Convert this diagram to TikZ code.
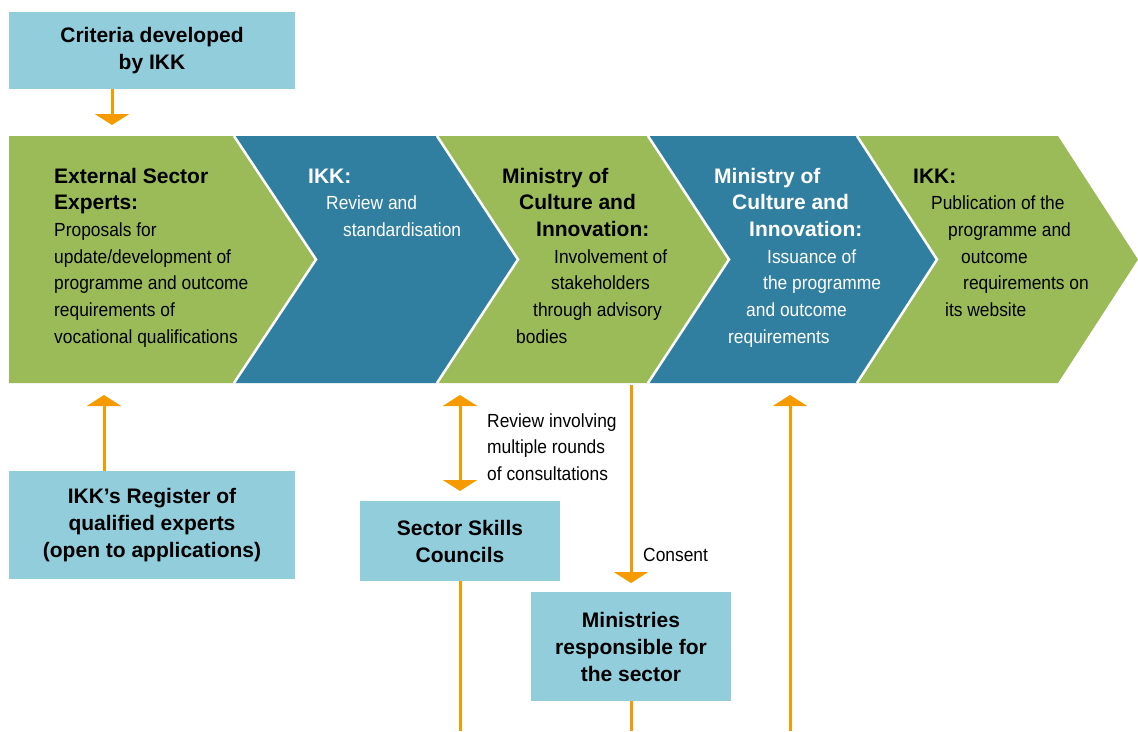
\documentclass[tikz,border=0pt]{standalone}
\usepackage{fontspec}
\setmainfont{Liberation Sans}
\newfontfamily\bodyfont[FakeStretch=0.915]{Liberation Sans}
\usetikzlibrary{arrows.meta}

\definecolor{stepgreen}{HTML}{9BBB59}
\definecolor{stepblue}{HTML}{317FA0}
\definecolor{boxblue}{HTML}{92CDDC}
\definecolor{flow}{HTML}{F59B00}

\tikzset{
  headline/.style={font=\fontsize{21}{26.7}\selectfont\bfseries, anchor=base west, inner sep=0pt},
  bodyline/.style={font=\bodyfont\fontsize{19}{26.7}\selectfont, anchor=base west, inner sep=0pt},
  infobox/.style={fill=boxblue, inner sep=0pt, align=center,
                  font=\fontsize{21}{27}\selectfont\bfseries},
  flowline/.style={draw=flow, line width=3pt},
  flowarrow/.style={flowline, -{Triangle[width=34pt,length=11pt]}},
  flowboth/.style={flowline, {Triangle[width=34pt,length=11pt]}-{Triangle[width=34pt,length=11pt]}},
  divider/.style={draw=white, line width=2.5pt},
}

\begin{document}
\begin{tikzpicture}[x=1pt, y=-1pt]
\useasboundingbox (0,0) rectangle (1138,731);

% ---- process chevrons ----
\fill[stepgreen] (9,136) -- (234,136) -- (316,259.5) -- (234,383) -- (9,383) -- cycle;
\fill[stepblue]  (234,136) -- (437,136) -- (518,259.5) -- (437,383) -- (234,383) -- (316,259.5) -- cycle;
\fill[stepgreen] (437,136) -- (648,136) -- (729,259.5) -- (648,383) -- (437,383) -- (518,259.5) -- cycle;
\fill[stepblue]  (648,136) -- (857,136) -- (937,259.5) -- (857,383) -- (648,383) -- (729,259.5) -- cycle;
\fill[stepgreen] (857,136) -- (1058,136) -- (1138,259.5) -- (1058,383) -- (857,383) -- (937,259.5) -- cycle;
\draw[divider] (234,136) -- (316,259.5) -- (234,383);
\draw[divider] (437,136) -- (518,259.5) -- (437,383);
\draw[divider] (648,136) -- (729,259.5) -- (648,383);
\draw[divider] (857,136) -- (937,259.5) -- (857,383);

% step 1
\node[headline] (s1a) at (54,183)   {External Sector};
\node[headline] (s1b) at (54,209.7) {Experts:};
\node[bodyline] (s1c) at (54,236.4) {Proposals for};
\node[bodyline] (s1d) at (54,263.1) {update/development of};
\node[bodyline] (s1e) at (54,289.8) {programme and outcome};
\node[bodyline] (s1f) at (54,316.5) {requirements of};
\node[bodyline] (s1g) at (54,343.2) {vocational qualifications};

% step 2
\node[headline, text=white] (s2a) at (308,183)   {IKK:};
\node[bodyline, text=white] (s2b) at (326,209.7) {Review and};
\node[bodyline, text=white] (s2c) at (343,236.4) {standardisation};

% step 3
\node[headline] (s3a) at (502,183)   {Ministry of};
\node[headline] (s3b) at (519,209.7) {Culture and};
\node[headline] (s3c) at (536,236.4) {Innovation:};
\node[bodyline] (s3d) at (554,263.1) {Involvement of};
\node[bodyline] (s3e) at (551,289.8) {stakeholders};
\node[bodyline] (s3f) at (533,316.5) {through advisory};
\node[bodyline] (s3g) at (516,343.2) {bodies};

% step 4
\node[headline, text=white] (s4a) at (714,183)   {Ministry of};
\node[headline, text=white] (s4b) at (732,209.7) {Culture and};
\node[headline, text=white] (s4c) at (749,236.4) {Innovation:};
\node[bodyline, text=white] (s4d) at (767,263.1) {Issuance of};
\node[bodyline, text=white] (s4e) at (763,289.8) {the programme};
\node[bodyline, text=white] (s4f) at (746,316.5) {and outcome};
\node[bodyline, text=white] (s4g) at (728,343.2) {requirements};

% step 5
\node[headline] (s5a) at (913,183)   {IKK:};
\node[bodyline] (s5b) at (931,209.7) {Publication of the};
\node[bodyline] (s5c) at (948,236.4) {programme and};
\node[bodyline] (s5d) at (961,263.1) {outcome};
\node[bodyline] (s5e) at (963,289.8) {requirements on};
\node[bodyline] (s5f) at (945,316.5) {its website};

% ---- boxes ----
\node[infobox, minimum width=286pt, minimum height=77pt]  (crit) at (152,50.5) {Criteria developed\\by IKK};
\node[infobox, minimum width=286pt, minimum height=108pt] (reg)  at (152,525)  {IKK’s Register of\\qualified experts\\(open to applications)};
\node[infobox, minimum width=200pt, minimum height=80pt]  (ssc)  at (460,541)  {Sector Skills\\Councils};
\node[infobox, minimum width=200pt, minimum height=109pt] (mins) at (631,646.5) {Ministries\\responsible for\\the sector};

% ---- labels ----
\node[bodyline] (rev1) at (487,427) {Review involving};
\node[bodyline] (rev2) at (487,453) {multiple rounds};
\node[bodyline] (rev3) at (487,480) {of consultations};
\node[bodyline] (cons) at (643,561) {Consent};

% ---- connector ends ----
\coordinate (critTip) at (112,125);
\coordinate (regTip)  at (104,395);
\coordinate (revTop)  at (460,395);
\coordinate (revBot)  at (460,491);
\coordinate (consTop) at (631,385);
\coordinate (consTip) at (631,583);
\coordinate (sscEnd)  at (460,731);
\coordinate (minsEnd) at (631,731);
\coordinate (issueFoot) at (790,731);
\coordinate (issueTip)  at (790,395);

% ---- connectors ----
\draw[flowarrow] (crit.south -| critTip) -- (critTip);
\draw[flowarrow] (reg.north -| regTip) -- (regTip);
\draw[flowboth]  (revBot) -- (revTop);
\draw[flowarrow] (consTop) -- (consTip);
\draw[flowline]  (ssc.south) -- (sscEnd);
\draw[flowline]  (mins.south) -- (minsEnd);
\draw[flowarrow] (issueFoot) -- (issueTip);
\end{tikzpicture}
\end{document}
